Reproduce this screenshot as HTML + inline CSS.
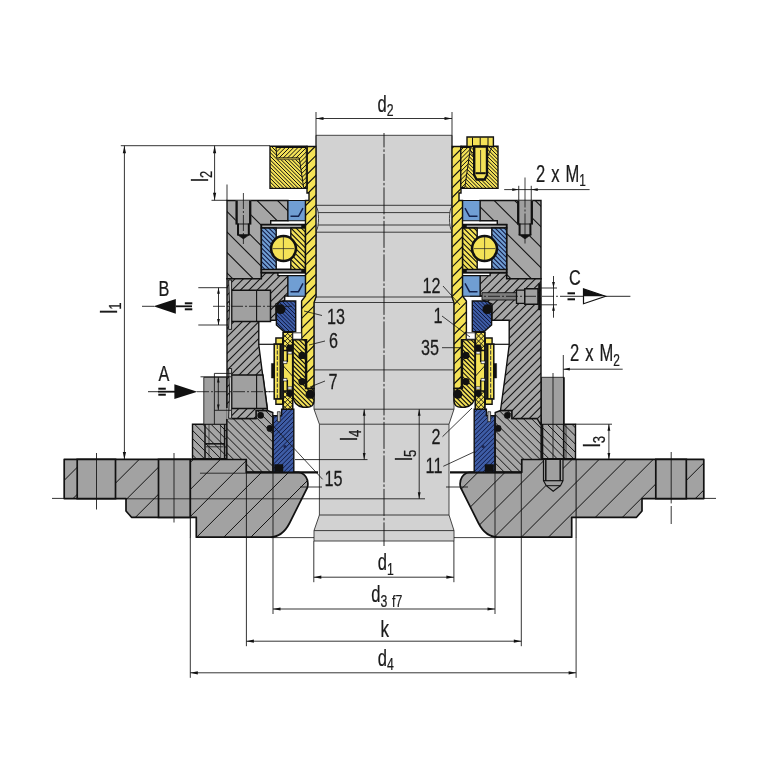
<!DOCTYPE html>
<html><head><meta charset="utf-8"><title>Seal drawing</title>
<style>
html,body{margin:0;padding:0;background:#fff;}
body{width:768px;height:768px;overflow:hidden;}
svg{display:block;}
text{font-family:"Liberation Sans",sans-serif;}
</style></head><body>
<svg width="768" height="768" viewBox="0 0 768 768">
<rect width="768" height="768" fill="#fff"/>
<defs>
<linearGradient id="shaftg" x1="0" y1="0" x2="1" y2="0"><stop offset="0" stop-color="#cdced0"/><stop offset="0.5" stop-color="#d3d4d6"/><stop offset="1" stop-color="#cdced0"/></linearGradient>
<clipPath id="c1"><path d="M64.2,459.4 L246.4,459.4 L246.4,472.3 L298.5,472.3 C304.5,472.6 309.5,479.5 307.4,487.5 L289.6,523 C285.5,531 279,537.2 270,537.2 L196.3,537.2 L196.3,517.3 L131.5,517.3 L126,511 L126,498.6 L64.2,498.6 Z "/></clipPath>
<clipPath id="c2"><path d="M703.8,459.4 L521.6,459.4 L521.6,472.3 L469.5,472.3 C463.5,472.6 458.5,479.5 460.6,487.5 L478.4,523 C482.5,531 489,537.2 498,537.2 L571.7,537.2 L571.7,517.3 L636.5,517.3 L642,511 L642,498.6 L703.8,498.6 Z "/></clipPath>
<clipPath id="c3"><polygon points="192.5,424.2 226.9,424.2 226.9,458.8 192.5,458.8"/></clipPath>
<clipPath id="c4"><polygon points="575.5,424.2 541.1,424.2 541.1,458.8 575.5,458.8"/></clipPath>
<clipPath id="c5"><polygon points="226.9,418.5 256,418.5 256,410.5 267.5,410.5 272.8,412.5 272.8,472.3 246.4,472.3 246.4,459.4 226.9,459.4"/></clipPath>
<clipPath id="c6"><polygon points="541.1,418.5 512,418.5 512,410.5 500.5,410.5 495.2,412.5 495.2,472.3 521.6,472.3 521.6,459.4 541.1,459.4"/></clipPath>
<clipPath id="c7"><polygon points="281.6,409.3 293.8,409.3 293.8,472.3 273.2,472.3 273.2,415.8 281.6,415.8"/></clipPath>
<clipPath id="c8"><polygon points="486.4,409.3 474.2,409.3 474.2,472.3 494.8,472.3 494.8,415.8 486.4,415.8"/></clipPath>
<clipPath id="c9"><polygon points="227,200.5 288,200.5 288,220.8 270.7,220.8 270.7,224.6 261.4,224.6 261.4,278.8 227,278.8"/></clipPath>
<clipPath id="c10"><polygon points="541,200.5 480,200.5 480,220.8 497.3,220.8 497.3,224.6 506.6,224.6 506.6,278.8 541,278.8"/></clipPath>
<clipPath id="c11"><polygon points="227,278.8 261.4,278.8 261.4,272.6 277.9,272.6 277.9,275.6 288,275.6 288,296 284.7,296 284.7,300.5 276,304 276,320.2 258.8,320.2 258.8,345 262,370 267.5,410.5 256,410.5 256,418.5 231,418.5 231,410.3 227,410.3"/></clipPath>
<clipPath id="c12"><polygon points="541,278.8 506.6,278.8 506.6,272.6 490.1,272.6 490.1,275.6 480,275.6 480,296 483.3,296 483.3,300.5 492,304 492,320.2 509.2,320.2 509.2,345 506,370 500.5,410.5 512,410.5 512,418.5 537,418.5 540.5,424.2 541,424.2"/></clipPath>
<clipPath id="c13"><polygon points="261.4,228 276.2,228 276.2,269.4 261.4,269.4"/></clipPath>
<clipPath id="c14"><polygon points="506.6,228 491.8,228 491.8,269.4 506.6,269.4"/></clipPath>
<clipPath id="c15"><polygon points="290.8,228 305.5,228 305.5,269.4 290.8,269.4"/></clipPath>
<clipPath id="c16"><polygon points="477.2,228 462.5,228 462.5,269.4 477.2,269.4"/></clipPath>
<clipPath id="c17"><polygon points="307,146.5 316,146.5 316,297 314,302.5 314,388.5 306.6,388.5 306.6,339.8 301.6,339.8 301.6,301 305.5,296 305.5,200.5 309,200.5 309,193 307,193"/></clipPath>
<clipPath id="c18"><polygon points="461,146.5 452,146.5 452,297 454,302.5 454,388.5 461.4,388.5 461.4,339.8 466.4,339.8 466.4,301 462.5,296 462.5,200.5 459,200.5 459,193 461,193"/></clipPath>
<clipPath id="c19"><polygon points="270,146.2 307,146.2 307,188.4 270,188.4"/></clipPath>
<clipPath id="c20"><polygon points="498,146.2 461,146.2 461,188.4 498,188.4"/></clipPath>
<clipPath id="c21"><polygon points="276,147.5 306.3,147.5 306.3,187.5 303.6,187.5 299.3,158 276.8,158"/></clipPath>
<clipPath id="c22"><polygon points="461,147.5 470.5,147.5 464.8,187.5 461,187.5"/></clipPath>
<clipPath id="c23"><polygon points="285,301 295.7,301 295.7,331.6 283.8,331.6 276.4,325 276.4,306 280,301.5"/></clipPath>
<clipPath id="c24"><polygon points="483,301 472.3,301 472.3,331.6 484.2,331.6 491.6,325 491.6,306 488,301.5"/></clipPath>
<clipPath id="c25"><path d="M293,339.8 L305.6,339.8 L305.6,388.5 L314,388.5 L314,401 C314,405 311,407.3 307,407.3 L303,407.3 C297,406.5 293,402 293,396 Z "/></clipPath>
<clipPath id="c26"><path d="M475,339.8 L462.4,339.8 L462.4,388.5 L454,388.5 L454,401 C454,405 457,407.3 461,407.3 L465,407.3 C471,406.5 475,402 475,396 Z "/></clipPath>
<clipPath id="c27"><polygon points="283.2,332.4 292.6,332.4 292.6,350.5 283.2,350.5"/></clipPath>
<clipPath id="c28"><polygon points="484.8,332.4 475.4,332.4 475.4,350.5 484.8,350.5"/></clipPath>
<clipPath id="c29"><polygon points="283.2,391 292.6,391 292.6,409.2 283.2,409.2"/></clipPath>
<clipPath id="c30"><polygon points="484.8,391 475.4,391 475.4,409.2 484.8,409.2"/></clipPath>
</defs>
<polygon points="316,135.3 452,135.3 452,297 454,302.5 454,409.2 449,424.2 449,515 454,530.6 454,541 314,541 314,530.6 319.4,515 319.4,424.2 314,409.2 314,302.5 316,297" fill="#d2d2d2" stroke="#333" stroke-width="0.9" stroke-linejoin="miter" />
<line x1="316" y1="205.3" x2="452" y2="205.3" stroke="#333" stroke-width="0.95" />
<line x1="316" y1="212.6" x2="452" y2="212.6" stroke="#333" stroke-width="0.95" />
<line x1="316" y1="225" x2="452" y2="225" stroke="#333" stroke-width="0.95" />
<line x1="316" y1="232.2" x2="452" y2="232.2" stroke="#333" stroke-width="0.95" />
<line x1="316" y1="297" x2="452" y2="297" stroke="#333" stroke-width="0.95" />
<line x1="314" y1="302.5" x2="454" y2="302.5" stroke="#333" stroke-width="0.95" />
<line x1="314" y1="369.9" x2="454" y2="369.9" stroke="#333" stroke-width="0.95" />
<line x1="314" y1="409.2" x2="454" y2="409.2" stroke="#333" stroke-width="0.95" />
<line x1="319.4" y1="424.2" x2="449" y2="424.2" stroke="#333" stroke-width="0.95" />
<line x1="319.4" y1="515" x2="449" y2="515" stroke="#333" stroke-width="0.95" />
<line x1="314" y1="530.6" x2="454" y2="530.6" stroke="#333" stroke-width="0.95" />
<path d="M316,206.5 C319.4,209 319.4,228 316,231" fill="#e2e2e4" stroke="#333" stroke-width="0.9" />
<path d="M452,206.5 C448.6,209 448.6,228 452,231" fill="#e2e2e4" stroke="#333" stroke-width="0.9" />
<path d="M64.2,459.4 L246.4,459.4 L246.4,472.3 L298.5,472.3 C304.5,472.6 309.5,479.5 307.4,487.5 L289.6,523 C285.5,531 279,537.2 270,537.2 L196.3,537.2 L196.3,517.3 L131.5,517.3 L126,511 L126,498.6 L64.2,498.6 Z " fill="#a2a2a2" stroke="none"/>
<g clip-path="url(#c1)"><path d="M63.00,481.52L705.00,-160.48M63.00,508.58L705.00,-133.42M63.00,535.63L705.00,-106.37M63.00,562.68L705.00,-79.32M63.00,589.74L705.00,-52.26M63.00,616.79L705.00,-25.21M63.00,643.85L705.00,1.85M63.00,670.90L705.00,28.90M63.00,697.95L705.00,55.95M63.00,725.01L705.00,83.01M63.00,752.06L705.00,110.06M63.00,779.12L705.00,137.12M63.00,806.17L705.00,164.17M63.00,833.22L705.00,191.22M63.00,860.28L705.00,218.28M63.00,887.33L705.00,245.33M63.00,914.39L705.00,272.39M63.00,941.44L705.00,299.44M63.00,968.49L705.00,326.49M63.00,995.55L705.00,353.55M63.00,1022.60L705.00,380.60M63.00,1049.65L705.00,407.65M63.00,1076.71L705.00,434.71M63.00,1103.76L705.00,461.76M63.00,1130.82L705.00,488.82M63.00,1157.87L705.00,515.87" fill="none" stroke="#121212" stroke-width="1"/></g>
<path d="M64.2,459.4 L246.4,459.4 L246.4,472.3 L298.5,472.3 C304.5,472.6 309.5,479.5 307.4,487.5 L289.6,523 C285.5,531 279,537.2 270,537.2 L196.3,537.2 L196.3,517.3 L131.5,517.3 L126,511 L126,498.6 L64.2,498.6 Z " fill="none" stroke="#111" stroke-width="1.7" stroke-linejoin="round"/>
<path d="M703.8,459.4 L521.6,459.4 L521.6,472.3 L469.5,472.3 C463.5,472.6 458.5,479.5 460.6,487.5 L478.4,523 C482.5,531 489,537.2 498,537.2 L571.7,537.2 L571.7,517.3 L636.5,517.3 L642,511 L642,498.6 L703.8,498.6 Z " fill="#a2a2a2" stroke="none"/>
<g clip-path="url(#c2)"><path d="M63.00,481.52L705.00,-160.48M63.00,508.58L705.00,-133.42M63.00,535.63L705.00,-106.37M63.00,562.68L705.00,-79.32M63.00,589.74L705.00,-52.26M63.00,616.79L705.00,-25.21M63.00,643.85L705.00,1.85M63.00,670.90L705.00,28.90M63.00,697.95L705.00,55.95M63.00,725.01L705.00,83.01M63.00,752.06L705.00,110.06M63.00,779.12L705.00,137.12M63.00,806.17L705.00,164.17M63.00,833.22L705.00,191.22M63.00,860.28L705.00,218.28M63.00,887.33L705.00,245.33M63.00,914.39L705.00,272.39M63.00,941.44L705.00,299.44M63.00,968.49L705.00,326.49M63.00,995.55L705.00,353.55M63.00,1022.60L705.00,380.60M63.00,1049.65L705.00,407.65M63.00,1076.71L705.00,434.71M63.00,1103.76L705.00,461.76M63.00,1130.82L705.00,488.82M63.00,1157.87L705.00,515.87" fill="none" stroke="#121212" stroke-width="1"/></g>
<path d="M703.8,459.4 L521.6,459.4 L521.6,472.3 L469.5,472.3 C463.5,472.6 458.5,479.5 460.6,487.5 L478.4,523 C482.5,531 489,537.2 498,537.2 L571.7,537.2 L571.7,517.3 L636.5,517.3 L642,511 L642,498.6 L703.8,498.6 Z " fill="none" stroke="#111" stroke-width="1.7" stroke-linejoin="round"/>
<polygon points="77.2,459.4 115.5,459.4 115.5,498.6 77.2,498.6" fill="#a2a2a2" stroke="#111" stroke-width="1.7" stroke-linejoin="miter" />
<polygon points="158.5,459.4 190.3,459.4 190.3,517.3 158.5,517.3" fill="#a2a2a2" stroke="#111" stroke-width="1.7" stroke-linejoin="miter" />
<polygon points="655.8,459.4 686.3,459.4 686.3,498.6 655.8,498.6" fill="#a2a2a2" stroke="#111" stroke-width="1.7" stroke-linejoin="miter" />
<line x1="200" y1="473.2" x2="246.4" y2="473.2" stroke="#111" stroke-width="0.8" />
<line x1="126" y1="498.8" x2="300" y2="498.8" stroke="#111" stroke-width="0.8" />
<line x1="190.3" y1="459.4" x2="190.3" y2="537.4" stroke="#111" stroke-width="1" />
<line x1="576.1" y1="459.4" x2="576.1" y2="537.4" stroke="#111" stroke-width="1" />
<polygon points="192.5,424.2 226.9,424.2 226.9,458.8 192.5,458.8" fill="#a6a6a6" stroke="none"/>
<g clip-path="url(#c3)"><path d="M191.50,388.36L227.90,424.76M191.50,396.56L227.90,432.96M191.50,404.76L227.90,441.16M191.50,412.97L227.90,449.37M191.50,421.17L227.90,457.57M191.50,429.37L227.90,465.77M191.50,437.57L227.90,473.97M191.50,445.78L227.90,482.18M191.50,453.98L227.90,490.38" fill="none" stroke="#121212" stroke-width="1"/></g>
<polygon points="192.5,424.2 226.9,424.2 226.9,458.8 192.5,458.8" fill="none" stroke="#111" stroke-width="1.4"/>
<polygon points="575.5,424.2 541.1,424.2 541.1,458.8 575.5,458.8" fill="#a6a6a6" stroke="none"/>
<g clip-path="url(#c4)"><path d="M540.10,392.46L576.50,428.86M540.10,400.66L576.50,437.06M540.10,408.86L576.50,445.26M540.10,417.06L576.50,453.46M540.10,425.27L576.50,461.67M540.10,433.47L576.50,469.87M540.10,441.67L576.50,478.07M540.10,449.87L576.50,486.27M540.10,458.08L576.50,494.48" fill="none" stroke="#121212" stroke-width="1"/></g>
<polygon points="575.5,424.2 541.1,424.2 541.1,458.8 575.5,458.8" fill="none" stroke="#111" stroke-width="1.4"/>
<polygon points="203.8,377.3 226.5,377.3 226.5,424.2 203.8,424.2" fill="#a0a0a0" stroke="#222" stroke-width="0.9" stroke-linejoin="miter" />
<polygon points="564.2,377.3 541.5,377.3 541.5,424.2 564.2,424.2" fill="#a0a0a0" stroke="#222" stroke-width="0.9" stroke-linejoin="miter" />
<polygon points="226.9,418.5 256,418.5 256,410.5 267.5,410.5 272.8,412.5 272.8,472.3 246.4,472.3 246.4,459.4 226.9,459.4" fill="#a6a6a6" stroke="none"/>
<g clip-path="url(#c5)"><path d="M225.90,362.94L273.80,410.84M225.90,371.00L273.80,418.90M225.90,379.06L273.80,426.96M225.90,387.12L273.80,435.02M225.90,395.18L273.80,443.08M225.90,403.24L273.80,451.14M225.90,411.30L273.80,459.20M225.90,419.36L273.80,467.26M225.90,427.43L273.80,475.33M225.90,435.49L273.80,483.39M225.90,443.55L273.80,491.45M225.90,451.61L273.80,499.51M225.90,459.67L273.80,507.57M225.90,467.73L273.80,515.63" fill="none" stroke="#121212" stroke-width="1"/></g>
<polygon points="226.9,418.5 256,418.5 256,410.5 267.5,410.5 272.8,412.5 272.8,472.3 246.4,472.3 246.4,459.4 226.9,459.4" fill="none" stroke="#111" stroke-width="1.4"/>
<polygon points="541.1,418.5 512,418.5 512,410.5 500.5,410.5 495.2,412.5 495.2,472.3 521.6,472.3 521.6,459.4 541.1,459.4" fill="#a6a6a6" stroke="none"/>
<g clip-path="url(#c6)"><path d="M494.20,365.22L542.10,413.12M494.20,373.28L542.10,421.18M494.20,381.35L542.10,429.25M494.20,389.41L542.10,437.31M494.20,397.47L542.10,445.37M494.20,405.53L542.10,453.43M494.20,413.59L542.10,461.49M494.20,421.65L542.10,469.55M494.20,429.71L542.10,477.61M494.20,437.77L542.10,485.67M494.20,445.83L542.10,493.73M494.20,453.89L542.10,501.79M494.20,461.96L542.10,509.86M494.20,470.02L542.10,517.92" fill="none" stroke="#121212" stroke-width="1"/></g>
<polygon points="541.1,418.5 512,418.5 512,410.5 500.5,410.5 495.2,412.5 495.2,472.3 521.6,472.3 521.6,459.4 541.1,459.4" fill="none" stroke="#111" stroke-width="1.4"/>
<line x1="246.4" y1="472.3" x2="318" y2="472.3" stroke="#111" stroke-width="2.2" />
<line x1="521.6" y1="472.3" x2="450" y2="472.3" stroke="#111" stroke-width="2.2" />
<polygon points="281.6,409.3 293.8,409.3 293.8,472.3 273.2,472.3 273.2,415.8 281.6,415.8" fill="#3e5da6" stroke="none"/>
<g clip-path="url(#c7)"><path d="M272.20,411.15L294.80,388.55M272.20,415.67L294.80,393.07M272.20,420.20L294.80,397.60M272.20,424.72L294.80,402.12M272.20,429.25L294.80,406.65M272.20,433.78L294.80,411.18M272.20,438.30L294.80,415.70M272.20,442.83L294.80,420.23M272.20,447.35L294.80,424.75M272.20,451.88L294.80,429.28M272.20,456.40L294.80,433.80M272.20,460.93L294.80,438.33M272.20,465.45L294.80,442.85M272.20,469.98L294.80,447.38M272.20,474.50L294.80,451.90M272.20,479.03L294.80,456.43M272.20,483.56L294.80,460.96M272.20,488.08L294.80,465.48M272.20,492.61L294.80,470.01" fill="none" stroke="#121a45" stroke-width="1"/></g>
<polygon points="281.6,409.3 293.8,409.3 293.8,472.3 273.2,472.3 273.2,415.8 281.6,415.8" fill="none" stroke="#111" stroke-width="1.4"/>
<polygon points="486.4,409.3 474.2,409.3 474.2,472.3 494.8,472.3 494.8,415.8 486.4,415.8" fill="#3e5da6" stroke="none"/>
<g clip-path="url(#c8)"><path d="M473.20,409.27L495.80,386.67M473.20,413.79L495.80,391.19M473.20,418.32L495.80,395.72M473.20,422.85L495.80,400.25M473.20,427.37L495.80,404.77M473.20,431.90L495.80,409.30M473.20,436.42L495.80,413.82M473.20,440.95L495.80,418.35M473.20,445.47L495.80,422.87M473.20,450.00L495.80,427.40M473.20,454.52L495.80,431.92M473.20,459.05L495.80,436.45M473.20,463.58L495.80,440.98M473.20,468.10L495.80,445.50M473.20,472.63L495.80,450.03M473.20,477.15L495.80,454.55M473.20,481.68L495.80,459.08M473.20,486.20L495.80,463.60M473.20,490.73L495.80,468.13M473.20,495.25L495.80,472.65" fill="none" stroke="#121a45" stroke-width="1"/></g>
<polygon points="486.4,409.3 474.2,409.3 474.2,472.3 494.8,472.3 494.8,415.8 486.4,415.8" fill="none" stroke="#111" stroke-width="1.4"/>
<polygon points="274.5,464.5 283,464.5 283,471.8 274.5,471.8" fill="#111" stroke="#111" stroke-width="0.5" stroke-linejoin="miter" />
<polygon points="493.5,464.5 485,464.5 485,471.8 493.5,471.8" fill="#111" stroke="#111" stroke-width="0.5" stroke-linejoin="miter" />
<polygon points="277.4,411.7 280.2,411.7 280.2,421.7 277.4,421.7" fill="#b8b8b8" stroke="#111" stroke-width="0.7" stroke-linejoin="miter" />
<polygon points="490.6,411.7 487.8,411.7 487.8,421.7 490.6,421.7" fill="#b8b8b8" stroke="#111" stroke-width="0.7" stroke-linejoin="miter" />
<circle cx="270" cy="428.4" r="3.4" fill="#111" stroke="none" stroke-width="0"/>
<circle cx="498" cy="428.4" r="3.4" fill="#111" stroke="none" stroke-width="0"/>
<circle cx="285" cy="446.5" r="1.6" fill="#1b2550" stroke="none" stroke-width="0"/>
<circle cx="483" cy="446.5" r="1.6" fill="#1b2550" stroke="none" stroke-width="0"/>
<circle cx="260.6" cy="415.4" r="3.3" fill="#111" stroke="none" stroke-width="0"/>
<circle cx="507.4" cy="415.4" r="3.3" fill="#111" stroke="none" stroke-width="0"/>
<polygon points="227,200.5 288,200.5 288,220.8 270.7,220.8 270.7,224.6 261.4,224.6 261.4,278.8 227,278.8" fill="#a6a6a6" stroke="none"/>
<g clip-path="url(#c9)"><path d="M226.00,148.99L289.00,211.99M226.00,169.50L289.00,232.50M226.00,190.01L289.00,253.01M226.00,210.51L289.00,273.51M226.00,231.02L289.00,294.02M226.00,251.52L289.00,314.52M226.00,272.03L289.00,335.03" fill="none" stroke="#121212" stroke-width="1.1"/></g>
<polygon points="227,200.5 288,200.5 288,220.8 270.7,220.8 270.7,224.6 261.4,224.6 261.4,278.8 227,278.8" fill="none" stroke="#111" stroke-width="1.4"/>
<polygon points="541,200.5 480,200.5 480,220.8 497.3,220.8 497.3,224.6 506.6,224.6 506.6,278.8 541,278.8" fill="#a6a6a6" stroke="none"/>
<g clip-path="url(#c10)"><path d="M479.00,144.29L542.00,207.29M479.00,164.80L542.00,227.80M479.00,185.31L542.00,248.31M479.00,205.81L542.00,268.81M479.00,226.32L542.00,289.32M479.00,246.82L542.00,309.82M479.00,267.33L542.00,330.33" fill="none" stroke="#121212" stroke-width="1.1"/></g>
<polygon points="541,200.5 480,200.5 480,220.8 497.3,220.8 497.3,224.6 506.6,224.6 506.6,278.8 541,278.8" fill="none" stroke="#111" stroke-width="1.4"/>
<polygon points="227,278.8 261.4,278.8 261.4,272.6 277.9,272.6 277.9,275.6 288,275.6 288,296 284.7,296 284.7,300.5 276,304 276,320.2 258.8,320.2 258.8,345 262,370 267.5,410.5 256,410.5 256,418.5 231,418.5 231,410.3 227,410.3" fill="#a6a6a6" stroke="none"/>
<g clip-path="url(#c11)"><path d="M226.00,279.51L289.00,216.51M226.00,287.86L289.00,224.86M226.00,296.20L289.00,233.20M226.00,304.54L289.00,241.54M226.00,312.89L289.00,249.89M226.00,321.23L289.00,258.23M226.00,329.58L289.00,266.58M226.00,337.92L289.00,274.92M226.00,346.26L289.00,283.26M226.00,354.61L289.00,291.61M226.00,362.95L289.00,299.95M226.00,371.29L289.00,308.29M226.00,379.64L289.00,316.64M226.00,387.98L289.00,324.98M226.00,396.33L289.00,333.33M226.00,404.67L289.00,341.67M226.00,413.01L289.00,350.01M226.00,421.36L289.00,358.36M226.00,429.70L289.00,366.70M226.00,438.05L289.00,375.05M226.00,446.39L289.00,383.39M226.00,454.73L289.00,391.73M226.00,463.08L289.00,400.08M226.00,471.42L289.00,408.42M226.00,479.76L289.00,416.76" fill="none" stroke="#121212" stroke-width="1.05"/></g>
<polygon points="227,278.8 261.4,278.8 261.4,272.6 277.9,272.6 277.9,275.6 288,275.6 288,296 284.7,296 284.7,300.5 276,304 276,320.2 258.8,320.2 258.8,345 262,370 267.5,410.5 256,410.5 256,418.5 231,418.5 231,410.3 227,410.3" fill="none" stroke="#111" stroke-width="1.4"/>
<polygon points="541,278.8 506.6,278.8 506.6,272.6 490.1,272.6 490.1,275.6 480,275.6 480,296 483.3,296 483.3,300.5 492,304 492,320.2 509.2,320.2 509.2,345 506,370 500.5,410.5 512,410.5 512,418.5 537,418.5 540.5,424.2 541,424.2" fill="#a6a6a6" stroke="none"/>
<g clip-path="url(#c12)"><path d="M479.00,276.83L542.00,213.83M479.00,285.17L542.00,222.17M479.00,293.52L542.00,230.52M479.00,301.86L542.00,238.86M479.00,310.20L542.00,247.20M479.00,318.55L542.00,255.55M479.00,326.89L542.00,263.89M479.00,335.24L542.00,272.24M479.00,343.58L542.00,280.58M479.00,351.92L542.00,288.92M479.00,360.27L542.00,297.27M479.00,368.61L542.00,305.61M479.00,376.95L542.00,313.95M479.00,385.30L542.00,322.30M479.00,393.64L542.00,330.64M479.00,401.99L542.00,338.99M479.00,410.33L542.00,347.33M479.00,418.67L542.00,355.67M479.00,427.02L542.00,364.02M479.00,435.36L542.00,372.36M479.00,443.71L542.00,380.71M479.00,452.05L542.00,389.05M479.00,460.39L542.00,397.39M479.00,468.74L542.00,405.74M479.00,477.08L542.00,414.08M479.00,485.42L542.00,422.42" fill="none" stroke="#121212" stroke-width="1.05"/></g>
<polygon points="541,278.8 506.6,278.8 506.6,272.6 490.1,272.6 490.1,275.6 480,275.6 480,296 483.3,296 483.3,300.5 492,304 492,320.2 509.2,320.2 509.2,345 506,370 500.5,410.5 512,410.5 512,418.5 537,418.5 540.5,424.2 541,424.2" fill="none" stroke="#111" stroke-width="1.4"/>
<line x1="258.8" y1="344.3" x2="274.6" y2="344.3" stroke="#111" stroke-width="1.2" />
<line x1="509.2" y1="344.3" x2="493.4" y2="344.3" stroke="#111" stroke-width="1.2" />
<line x1="265.5" y1="391.7" x2="274.2" y2="391.7" stroke="#111" stroke-width="0.8" />
<polygon points="231.6,290.3 270.5,290.3 270.5,321.6 231.6,321.6" fill="#a0a0a0" stroke="#111" stroke-width="1.5" stroke-linejoin="miter" />
<line x1="256.6" y1="290.3" x2="256.6" y2="321.6" stroke="#111" stroke-width="1.1" />
<path d="M228.6,280 Q230.6,306 228.6,329.4 L231.6,329.4 L231.6,280 Z" fill="#c4c4c4" stroke="#111" stroke-width="0.9" />
<polygon points="226.3,408 231.8,408 231.8,419 226.3,419" fill="#a0a0a0" stroke="none" stroke-width="0" stroke-linejoin="miter" />
<polygon points="231.6,375 262.9,375 267.3,408.6 231.6,408.6" fill="#a0a0a0" stroke="#111" stroke-width="1.5" stroke-linejoin="miter" />
<line x1="256.6" y1="375" x2="256.6" y2="408.6" stroke="#111" stroke-width="1.1" />
<path d="M228.6,368.5 Q230.6,392 228.6,418.3 L231.6,418.3 L231.6,368.5 Z" fill="#c4c4c4" stroke="#111" stroke-width="0.9" />
<polygon points="482,292.7 518,292.7 518,300 482,300" fill="#7d7d7d" stroke="#111" stroke-width="0.9" stroke-linejoin="miter" />
<polygon points="516.5,290.2 524.8,290.2 524.8,303.3 516.5,303.3" fill="#a0a0a0" stroke="#111" stroke-width="1.3" stroke-linejoin="miter" />
<polygon points="524.8,288.7 538,288.7 538,304.3 524.8,304.3" fill="#a0a0a0" stroke="#111" stroke-width="1.4" stroke-linejoin="miter" />
<polygon points="538.3,283.5 540.6,283.5 540.6,310 538.3,310" fill="#111" stroke="#111" stroke-width="0.4" stroke-linejoin="miter" />
<polygon points="235.6,200.5 251.2,200.5 251.2,224 235.6,224" fill="#a0a0a0" stroke="none" stroke-width="0" stroke-linejoin="miter" />
<line x1="236.6" y1="200.5" x2="236.6" y2="224.6" stroke="#111" stroke-width="2.3" />
<line x1="250.2" y1="200.5" x2="250.2" y2="224.6" stroke="#111" stroke-width="2.3" />
<polygon points="237.2,224 249.6,224 249.6,235 237.2,235" fill="#a0a0a0" stroke="none" stroke-width="0" stroke-linejoin="miter" />
<line x1="238" y1="223.5" x2="238" y2="235.5" stroke="#111" stroke-width="2" />
<line x1="248.8" y1="223.5" x2="248.8" y2="235.5" stroke="#111" stroke-width="2" />
<line x1="237.2" y1="224" x2="249.6" y2="224" stroke="#111" stroke-width="0.9" />
<polygon points="237.2,234.6 249.6,234.6 243.4,238.9" fill="#111" stroke="#111" stroke-width="0.6" stroke-linejoin="miter" />
<polygon points="532.8,200.5 517.2,200.5 517.2,224 532.8,224" fill="#a0a0a0" stroke="none" stroke-width="0" stroke-linejoin="miter" />
<line x1="531.8" y1="200.5" x2="531.8" y2="224.6" stroke="#111" stroke-width="2.3" />
<line x1="518.2" y1="200.5" x2="518.2" y2="224.6" stroke="#111" stroke-width="2.3" />
<polygon points="531.2,224 518.8,224 518.8,235 531.2,235" fill="#a0a0a0" stroke="none" stroke-width="0" stroke-linejoin="miter" />
<line x1="530.4" y1="223.5" x2="530.4" y2="235.5" stroke="#111" stroke-width="2" />
<line x1="519.6" y1="223.5" x2="519.6" y2="235.5" stroke="#111" stroke-width="2" />
<line x1="531.2" y1="224" x2="518.8" y2="224" stroke="#111" stroke-width="0.9" />
<polygon points="531.2,234.6 518.8,234.6 525,238.9" fill="#111" stroke="#111" stroke-width="0.6" stroke-linejoin="miter" />
<polygon points="288,200.5 305.5,200.5 305.5,220.8 288,220.8" fill="#709ed3" stroke="#111" stroke-width="1.1" stroke-linejoin="miter" />
<polygon points="480,200.5 462.5,200.5 462.5,220.8 480,220.8" fill="#709ed3" stroke="#111" stroke-width="1.1" stroke-linejoin="miter" />
<path d="M290.5,216.334 L298.5,216.334 L303,208.214" fill="none" stroke="#14224d" stroke-width="1.5" />
<path d="M477.5,216.334 L469.5,216.334 L465,208.214" fill="none" stroke="#14224d" stroke-width="1.5" />
<polygon points="288,275.6 305.5,275.6 305.5,296.2 288,296.2" fill="#709ed3" stroke="#111" stroke-width="1.1" stroke-linejoin="miter" />
<polygon points="480,275.6 462.5,275.6 462.5,296.2 480,296.2" fill="#709ed3" stroke="#111" stroke-width="1.1" stroke-linejoin="miter" />
<path d="M290.5,291.668 L298.5,291.668 L303,283.428" fill="none" stroke="#14224d" stroke-width="1.5" />
<path d="M477.5,291.668 L469.5,291.668 L465,283.428" fill="none" stroke="#14224d" stroke-width="1.5" />
<polygon points="261.4,224.6 305.5,224.6 305.5,272.6 261.4,272.6" fill="#fff" stroke="#111" stroke-width="1.2" stroke-linejoin="miter" />
<polygon points="506.6,224.6 462.5,224.6 462.5,272.6 506.6,272.6" fill="#fff" stroke="#111" stroke-width="1.2" stroke-linejoin="miter" />
<polygon points="261.4,224.6 305.5,224.6 305.5,228 261.4,228" fill="#a8a8a8" stroke="#111" stroke-width="1.6" stroke-linejoin="miter" />
<polygon points="506.6,224.6 462.5,224.6 462.5,228 506.6,228" fill="#a8a8a8" stroke="#111" stroke-width="1.6" stroke-linejoin="miter" />
<polygon points="261.4,269.4 305.5,269.4 305.5,272.6 261.4,272.6" fill="#a8a8a8" stroke="#111" stroke-width="1.6" stroke-linejoin="miter" />
<polygon points="506.6,269.4 462.5,269.4 462.5,272.6 506.6,272.6" fill="#a8a8a8" stroke="#111" stroke-width="1.6" stroke-linejoin="miter" />
<polygon points="301.5,224.8 306,224.8 306,228.6 301.5,228.6" fill="#111" stroke="#111" stroke-width="0.5" stroke-linejoin="miter" />
<polygon points="466.5,224.8 462,224.8 462,228.6 466.5,228.6" fill="#111" stroke="#111" stroke-width="0.5" stroke-linejoin="miter" />
<polygon points="301.5,269 306,269 306,272.6 301.5,272.6" fill="#111" stroke="#111" stroke-width="0.5" stroke-linejoin="miter" />
<polygon points="466.5,269 462,269 462,272.6 466.5,272.6" fill="#111" stroke="#111" stroke-width="0.5" stroke-linejoin="miter" />
<polygon points="261.4,228 276.2,228 276.2,269.4 261.4,269.4" fill="#709ed3" stroke="none"/>
<g clip-path="url(#c13)"><path d="M260.40,210.62L277.20,227.42M260.40,215.15L277.20,231.95M260.40,219.67L277.20,236.47M260.40,224.20L277.20,241.00M260.40,228.72L277.20,245.52M260.40,233.25L277.20,250.05M260.40,237.77L277.20,254.57M260.40,242.30L277.20,259.10M260.40,246.82L277.20,263.62M260.40,251.35L277.20,268.15M260.40,255.87L277.20,272.67M260.40,260.40L277.20,277.20M260.40,264.93L277.20,281.73M260.40,269.45L277.20,286.25" fill="none" stroke="#121a45" stroke-width="1.05"/></g>
<polygon points="261.4,228 276.2,228 276.2,269.4 261.4,269.4" fill="none" stroke="#111" stroke-width="1.4"/>
<polygon points="506.6,228 491.8,228 491.8,269.4 506.6,269.4" fill="#709ed3" stroke="none"/>
<g clip-path="url(#c14)"><path d="M490.80,210.22L507.60,227.02M490.80,214.75L507.60,231.55M490.80,219.27L507.60,236.07M490.80,223.80L507.60,240.60M490.80,228.32L507.60,245.12M490.80,232.85L507.60,249.65M490.80,237.37L507.60,254.17M490.80,241.90L507.60,258.70M490.80,246.42L507.60,263.22M490.80,250.95L507.60,267.75M490.80,255.47L507.60,272.27M490.80,260.00L507.60,276.80M490.80,264.53L507.60,281.33M490.80,269.05L507.60,285.85" fill="none" stroke="#121a45" stroke-width="1.05"/></g>
<polygon points="506.6,228 491.8,228 491.8,269.4 506.6,269.4" fill="none" stroke="#111" stroke-width="1.4"/>
<polygon points="290.8,228 305.5,228 305.5,269.4 290.8,269.4" fill="#f4e257" stroke="none"/>
<g clip-path="url(#c15)"><path d="M289.80,211.31L306.50,228.01M289.80,216.54L306.50,233.24M289.80,221.78L306.50,238.48M289.80,227.01L306.50,243.71M289.80,232.24L306.50,248.94M289.80,237.47L306.50,254.17M289.80,242.71L306.50,259.41M289.80,247.94L306.50,264.64M289.80,253.17L306.50,269.87M289.80,258.40L306.50,275.10M289.80,263.64L306.50,280.34M289.80,268.87L306.50,285.57" fill="none" stroke="#121212" stroke-width="1.1"/></g>
<polygon points="290.8,228 305.5,228 305.5,269.4 290.8,269.4" fill="none" stroke="#111" stroke-width="1.4"/>
<polygon points="477.2,228 462.5,228 462.5,269.4 477.2,269.4" fill="#f4e257" stroke="none"/>
<g clip-path="url(#c16)"><path d="M461.50,210.34L478.20,227.04M461.50,215.57L478.20,232.27M461.50,220.80L478.20,237.50M461.50,226.03L478.20,242.73M461.50,231.27L478.20,247.97M461.50,236.50L478.20,253.20M461.50,241.73L478.20,258.43M461.50,246.96L478.20,263.66M461.50,252.20L478.20,268.90M461.50,257.43L478.20,274.13M461.50,262.66L478.20,279.36M461.50,267.89L478.20,284.59" fill="none" stroke="#121212" stroke-width="1.1"/></g>
<polygon points="477.2,228 462.5,228 462.5,269.4 477.2,269.4" fill="none" stroke="#111" stroke-width="1.4"/>
<circle cx="283.5" cy="248.6" r="12.5" fill="#f4e257" stroke="#111" stroke-width="2.5"/>
<circle cx="484.5" cy="248.6" r="12.5" fill="#f4e257" stroke="#111" stroke-width="2.5"/>
<line x1="272.5" y1="248.6" x2="294.3" y2="248.6" stroke="#222" stroke-width="0.7" />
<line x1="283.4" y1="237" x2="283.4" y2="260" stroke="#222" stroke-width="0.7" />
<line x1="495.5" y1="248.6" x2="473.7" y2="248.6" stroke="#222" stroke-width="0.7" />
<line x1="484.6" y1="237" x2="484.6" y2="260" stroke="#222" stroke-width="0.7" />
<polygon points="307,146.5 316,146.5 316,297 314,302.5 314,388.5 306.6,388.5 306.6,339.8 301.6,339.8 301.6,301 305.5,296 305.5,200.5 309,200.5 309,193 307,193" fill="#f4e257" stroke="none"/>
<g clip-path="url(#c17)"><path d="M300.60,151.11L317.00,134.71M300.60,161.00L317.00,144.60M300.60,170.90L317.00,154.50M300.60,180.80L317.00,164.40M300.60,190.70L317.00,174.30M300.60,200.60L317.00,184.20M300.60,210.50L317.00,194.10M300.60,220.40L317.00,204.00M300.60,230.30L317.00,213.90M300.60,240.20L317.00,223.80M300.60,250.10L317.00,233.70M300.60,260.00L317.00,243.60M300.60,269.90L317.00,253.50M300.60,279.80L317.00,263.40M300.60,289.70L317.00,273.30M300.60,299.60L317.00,283.20M300.60,309.50L317.00,293.10M300.60,319.40L317.00,303.00M300.60,329.30L317.00,312.90M300.60,339.20L317.00,322.80M300.60,349.09L317.00,332.69M300.60,358.99L317.00,342.59M300.60,368.89L317.00,352.49M300.60,378.79L317.00,362.39M300.60,388.69L317.00,372.29M300.60,398.59L317.00,382.19" fill="none" stroke="#121212" stroke-width="1.2"/></g>
<polygon points="307,146.5 316,146.5 316,297 314,302.5 314,388.5 306.6,388.5 306.6,339.8 301.6,339.8 301.6,301 305.5,296 305.5,200.5 309,200.5 309,193 307,193" fill="none" stroke="#111" stroke-width="1.4"/>
<polygon points="461,146.5 452,146.5 452,297 454,302.5 454,388.5 461.4,388.5 461.4,339.8 466.4,339.8 466.4,301 462.5,296 462.5,200.5 459,200.5 459,193 461,193" fill="#f4e257" stroke="none"/>
<g clip-path="url(#c18)"><path d="M451.00,149.20L467.40,132.80M451.00,159.10L467.40,142.70M451.00,169.00L467.40,152.60M451.00,178.90L467.40,162.50M451.00,188.80L467.40,172.40M451.00,198.69L467.40,182.29M451.00,208.59L467.40,192.19M451.00,218.49L467.40,202.09M451.00,228.39L467.40,211.99M451.00,238.29L467.40,221.89M451.00,248.19L467.40,231.79M451.00,258.09L467.40,241.69M451.00,267.99L467.40,251.59M451.00,277.89L467.40,261.49M451.00,287.79L467.40,271.39M451.00,297.69L467.40,281.29M451.00,307.59L467.40,291.19M451.00,317.49L467.40,301.09M451.00,327.39L467.40,310.99M451.00,337.29L467.40,320.89M451.00,347.19L467.40,330.79M451.00,357.09L467.40,340.69M451.00,366.99L467.40,350.59M451.00,376.89L467.40,360.49M451.00,386.79L467.40,370.39M451.00,396.68L467.40,380.28" fill="none" stroke="#121212" stroke-width="1.2"/></g>
<polygon points="461,146.5 452,146.5 452,297 454,302.5 454,388.5 461.4,388.5 461.4,339.8 466.4,339.8 466.4,301 462.5,296 462.5,200.5 459,200.5 459,193 461,193" fill="none" stroke="#111" stroke-width="1.4"/>
<polygon points="270,146.2 307,146.2 307,188.4 270,188.4" fill="#f4e257" stroke="none"/>
<g clip-path="url(#c19)"><path d="M269.00,107.21L308.00,146.21M269.00,110.89L308.00,149.89M269.00,114.57L308.00,153.57M269.00,118.24L308.00,157.24M269.00,121.92L308.00,160.92M269.00,125.60L308.00,164.60M269.00,129.28L308.00,168.28M269.00,132.95L308.00,171.95M269.00,136.63L308.00,175.63M269.00,140.31L308.00,179.31M269.00,143.98L308.00,182.98M269.00,147.66L308.00,186.66M269.00,151.34L308.00,190.34M269.00,155.01L308.00,194.01M269.00,158.69L308.00,197.69M269.00,162.37L308.00,201.37M269.00,166.05L308.00,205.05M269.00,169.72L308.00,208.72M269.00,173.40L308.00,212.40M269.00,177.08L308.00,216.08M269.00,180.75L308.00,219.75M269.00,184.43L308.00,223.43M269.00,188.11L308.00,227.11" fill="none" stroke="#121212" stroke-width="1"/></g>
<polygon points="270,146.2 307,146.2 307,188.4 270,188.4" fill="none" stroke="#111" stroke-width="1.4"/>
<polygon points="498,146.2 461,146.2 461,188.4 498,188.4" fill="#f4e257" stroke="none"/>
<g clip-path="url(#c20)"><path d="M460.00,107.01L499.00,146.01M460.00,110.69L499.00,149.69M460.00,114.37L499.00,153.37M460.00,118.04L499.00,157.04M460.00,121.72L499.00,160.72M460.00,125.40L499.00,164.40M460.00,129.07L499.00,168.07M460.00,132.75L499.00,171.75M460.00,136.43L499.00,175.43M460.00,140.10L499.00,179.10M460.00,143.78L499.00,182.78M460.00,147.46L499.00,186.46M460.00,151.14L499.00,190.14M460.00,154.81L499.00,193.81M460.00,158.49L499.00,197.49M460.00,162.17L499.00,201.17M460.00,165.84L499.00,204.84M460.00,169.52L499.00,208.52M460.00,173.20L499.00,212.20M460.00,176.87L499.00,215.87M460.00,180.55L499.00,219.55M460.00,184.23L499.00,223.23M460.00,187.91L499.00,226.91" fill="none" stroke="#121212" stroke-width="1"/></g>
<polygon points="498,146.2 461,146.2 461,188.4 498,188.4" fill="none" stroke="#111" stroke-width="1.4"/>
<polygon points="276,147.5 306.3,147.5 306.3,187.5 303.6,187.5 299.3,158 276.8,158" fill="#f4e257" stroke="none"/>
<g clip-path="url(#c21)"><path d="M275.00,149.26L307.30,116.96M275.00,153.51L307.30,121.21M275.00,157.75L307.30,125.45M275.00,161.99L307.30,129.69M275.00,166.23L307.30,133.93M275.00,170.48L307.30,138.18M275.00,174.72L307.30,142.42M275.00,178.96L307.30,146.66M275.00,183.21L307.30,150.91M275.00,187.45L307.30,155.15M275.00,191.69L307.30,159.39M275.00,195.93L307.30,163.63M275.00,200.18L307.30,167.88M275.00,204.42L307.30,172.12M275.00,208.66L307.30,176.36M275.00,212.90L307.30,180.60M275.00,217.15L307.30,184.85" fill="none" stroke="#121212" stroke-width="1"/></g>
<polygon points="276,147.5 306.3,147.5 306.3,187.5 303.6,187.5 299.3,158 276.8,158" fill="none" stroke="#111" stroke-width="1"/>
<polygon points="278,158 299,158 299,159.6 278,159.6" fill="#c9b84a" stroke="#111" stroke-width="0.5" stroke-linejoin="miter" />
<polygon points="461,147.5 470.5,147.5 464.8,187.5 461,187.5" fill="#f4e257" stroke="none"/>
<g clip-path="url(#c22)"><path d="M460.00,146.70L471.50,135.20M460.00,150.94L471.50,139.44M460.00,155.18L471.50,143.68M460.00,159.43L471.50,147.93M460.00,163.67L471.50,152.17M460.00,167.91L471.50,156.41M460.00,172.15L471.50,160.65M460.00,176.40L471.50,164.90M460.00,180.64L471.50,169.14M460.00,184.88L471.50,173.38M460.00,189.12L471.50,177.62M460.00,193.37L471.50,181.87M460.00,197.61L471.50,186.11" fill="none" stroke="#121212" stroke-width="1"/></g>
<polygon points="461,147.5 470.5,147.5 464.8,187.5 461,187.5" fill="none" stroke="#111" stroke-width="1"/>
<polygon points="467,137 493.4,137 493.4,146.5 467,146.5" fill="#f4e257" stroke="#111" stroke-width="1.4" stroke-linejoin="miter" />
<line x1="472.5" y1="137.5" x2="472.5" y2="146.5" stroke="#111" stroke-width="1" />
<line x1="480.2" y1="137.5" x2="480.2" y2="146.5" stroke="#111" stroke-width="1" />
<line x1="488" y1="137.5" x2="488" y2="146.5" stroke="#111" stroke-width="1" />
<polygon points="474.2,146.5 487,146.5 487,175 484.6,179.5 476.6,179.5 474.2,175" fill="#f4e257" stroke="#111" stroke-width="2.4" stroke-linejoin="miter" />
<line x1="480.6" y1="150" x2="480.6" y2="172" stroke="#222" stroke-width="0.8" />
<line x1="475.5" y1="173.2" x2="485.7" y2="173.2" stroke="#111" stroke-width="2" />
<line x1="469" y1="147" x2="473" y2="156" stroke="#111" stroke-width="0.8" />
<line x1="492" y1="147" x2="488" y2="156" stroke="#111" stroke-width="0.8" />
<polygon points="285,301 295.7,301 295.7,331.6 283.8,331.6 276.4,325 276.4,306 280,301.5" fill="#3e5da6" stroke="none"/>
<g clip-path="url(#c23)"><path d="M275.40,279.22L296.70,300.52M275.40,283.04L296.70,304.34M275.40,286.86L296.70,308.16M275.40,290.67L296.70,311.97M275.40,294.49L296.70,315.79M275.40,298.31L296.70,319.61M275.40,302.13L296.70,323.43M275.40,305.95L296.70,327.25M275.40,309.77L296.70,331.07M275.40,313.58L296.70,334.88M275.40,317.40L296.70,338.70M275.40,321.22L296.70,342.52M275.40,325.04L296.70,346.34M275.40,328.86L296.70,350.16" fill="none" stroke="#0e1538" stroke-width="1"/></g>
<polygon points="285,301 295.7,301 295.7,331.6 283.8,331.6 276.4,325 276.4,306 280,301.5" fill="none" stroke="#111" stroke-width="1.4"/>
<polygon points="483,301 472.3,301 472.3,331.6 484.2,331.6 491.6,325 491.6,306 488,301.5" fill="#3e5da6" stroke="none"/>
<g clip-path="url(#c24)"><path d="M471.30,280.38L492.60,301.68M471.30,284.20L492.60,305.50M471.30,288.02L492.60,309.32M471.30,291.84L492.60,313.14M471.30,295.65L492.60,316.95M471.30,299.47L492.60,320.77M471.30,303.29L492.60,324.59M471.30,307.11L492.60,328.41M471.30,310.93L492.60,332.23M471.30,314.75L492.60,336.05M471.30,318.56L492.60,339.86M471.30,322.38L492.60,343.68M471.30,326.20L492.60,347.50M471.30,330.02L492.60,351.32" fill="none" stroke="#0e1538" stroke-width="1"/></g>
<polygon points="483,301 472.3,301 472.3,331.6 484.2,331.6 491.6,325 491.6,306 488,301.5" fill="none" stroke="#111" stroke-width="1.4"/>
<circle cx="280.6" cy="309.2" r="4.9" fill="#111" stroke="none" stroke-width="0"/>
<circle cx="487.4" cy="309.2" r="4.9" fill="#111" stroke="none" stroke-width="0"/>
<path d="M293,339.8 L305.6,339.8 L305.6,388.5 L314,388.5 L314,401 C314,405 311,407.3 307,407.3 L303,407.3 C297,406.5 293,402 293,396 Z " fill="#f4e257" stroke="none"/>
<g clip-path="url(#c25)"><path d="M292.00,319.15L315.00,342.15M292.00,323.68L315.00,346.68M292.00,328.20L315.00,351.20M292.00,332.73L315.00,355.73M292.00,337.25L315.00,360.25M292.00,341.78L315.00,364.78M292.00,346.31L315.00,369.31M292.00,350.83L315.00,373.83M292.00,355.36L315.00,378.36M292.00,359.88L315.00,382.88M292.00,364.41L315.00,387.41M292.00,368.93L315.00,391.93M292.00,373.46L315.00,396.46M292.00,377.98L315.00,400.98M292.00,382.51L315.00,405.51M292.00,387.04L315.00,410.04M292.00,391.56L315.00,414.56M292.00,396.09L315.00,419.09M292.00,400.61L315.00,423.61M292.00,405.14L315.00,428.14" fill="none" stroke="#121212" stroke-width="1.15"/></g>
<path d="M293,339.8 L305.6,339.8 L305.6,388.5 L314,388.5 L314,401 C314,405 311,407.3 307,407.3 L303,407.3 C297,406.5 293,402 293,396 Z " fill="none" stroke="#111" stroke-width="1.5" />
<path d="M475,339.8 L462.4,339.8 L462.4,388.5 L454,388.5 L454,401 C454,405 457,407.3 461,407.3 L465,407.3 C471,406.5 475,402 475,396 Z " fill="#f4e257" stroke="none"/>
<g clip-path="url(#c26)"><path d="M453.00,317.24L476.00,340.24M453.00,321.76L476.00,344.76M453.00,326.29L476.00,349.29M453.00,330.81L476.00,353.81M453.00,335.34L476.00,358.34M453.00,339.86L476.00,362.86M453.00,344.39L476.00,367.39M453.00,348.91L476.00,371.91M453.00,353.44L476.00,376.44M453.00,357.96L476.00,380.96M453.00,362.49L476.00,385.49M453.00,367.02L476.00,390.02M453.00,371.54L476.00,394.54M453.00,376.07L476.00,399.07M453.00,380.59L476.00,403.59M453.00,385.12L476.00,408.12M453.00,389.64L476.00,412.64M453.00,394.17L476.00,417.17M453.00,398.69L476.00,421.69M453.00,403.22L476.00,426.22M453.00,407.75L476.00,430.75" fill="none" stroke="#121212" stroke-width="1.15"/></g>
<path d="M475,339.8 L462.4,339.8 L462.4,388.5 L454,388.5 L454,401 C454,405 457,407.3 461,407.3 L465,407.3 C471,406.5 475,402 475,396 Z " fill="none" stroke="#111" stroke-width="1.5" />
<circle cx="302.1" cy="355.4" r="3.7" fill="#111" stroke="none" stroke-width="0"/>
<circle cx="465.9" cy="355.4" r="3.7" fill="#111" stroke="none" stroke-width="0"/>
<circle cx="302.1" cy="381.6" r="3.7" fill="#111" stroke="none" stroke-width="0"/>
<circle cx="465.9" cy="381.6" r="3.7" fill="#111" stroke="none" stroke-width="0"/>
<circle cx="310.2" cy="394.2" r="4.6" fill="#111" stroke="none" stroke-width="0"/>
<circle cx="457.8" cy="394.2" r="4.6" fill="#111" stroke="none" stroke-width="0"/>
<polygon points="283.2,332.4 292.6,332.4 292.6,409.2 283.2,409.2" fill="#f4e257" stroke="#111" stroke-width="1.4" stroke-linejoin="miter" />
<polygon points="484.8,332.4 475.4,332.4 475.4,409.2 484.8,409.2" fill="#f4e257" stroke="#111" stroke-width="1.4" stroke-linejoin="miter" />
<polygon points="283.2,332.4 292.6,332.4 292.6,350.5 283.2,350.5" fill="#f4e257" stroke="none"/>
<g clip-path="url(#c27)"><path d="M282.20,322.93L293.60,334.33M282.20,328.02L293.60,339.42M282.20,333.11L293.60,344.51M282.20,338.20L293.60,349.60M282.20,343.29L293.60,354.69M282.20,348.39L293.60,359.79" fill="none" stroke="#121212" stroke-width="0.9"/><path d="M282.20,333.83L293.60,322.43M282.20,338.92L293.60,327.52M282.20,344.01L293.60,332.61M282.20,349.10L293.60,337.70M282.20,354.20L293.60,342.80M282.20,359.29L293.60,347.89" fill="none" stroke="#121212" stroke-width="0.9"/></g>
<polygon points="283.2,332.4 292.6,332.4 292.6,350.5 283.2,350.5" fill="none" stroke="#111" stroke-width="1.4"/>
<polygon points="484.8,332.4 475.4,332.4 475.4,350.5 484.8,350.5" fill="#f4e257" stroke="none"/>
<g clip-path="url(#c28)"><path d="M474.40,321.66L485.80,333.06M474.40,326.76L485.80,338.16M474.40,331.85L485.80,343.25M474.40,336.94L485.80,348.34M474.40,342.03L485.80,353.43M474.40,347.12L485.80,358.52" fill="none" stroke="#121212" stroke-width="0.9"/><path d="M474.40,335.10L485.80,323.70M474.40,340.19L485.80,328.79M474.40,345.28L485.80,333.88M474.40,350.37L485.80,338.97M474.40,355.46L485.80,344.06M474.40,360.55L485.80,349.15" fill="none" stroke="#121212" stroke-width="0.9"/></g>
<polygon points="484.8,332.4 475.4,332.4 475.4,350.5 484.8,350.5" fill="none" stroke="#111" stroke-width="1.4"/>
<polygon points="283.2,391 292.6,391 292.6,409.2 283.2,409.2" fill="#f4e257" stroke="none"/>
<g clip-path="url(#c29)"><path d="M282.20,378.93L293.60,390.33M282.20,384.02L293.60,395.42M282.20,389.11L293.60,400.51M282.20,394.21L293.60,405.61M282.20,399.30L293.60,410.70M282.20,404.39L293.60,415.79M282.20,409.48L293.60,420.88" fill="none" stroke="#121212" stroke-width="0.9"/><path d="M282.20,394.93L293.60,383.53M282.20,400.02L293.60,388.62M282.20,405.11L293.60,393.71M282.20,410.20L293.60,398.80M282.20,415.29L293.60,403.89M282.20,420.38L293.60,408.98" fill="none" stroke="#121212" stroke-width="0.9"/></g>
<polygon points="283.2,391 292.6,391 292.6,409.2 283.2,409.2" fill="none" stroke="#111" stroke-width="1.4"/>
<polygon points="484.8,391 475.4,391 475.4,409.2 484.8,409.2" fill="#f4e257" stroke="none"/>
<g clip-path="url(#c30)"><path d="M474.40,382.76L485.80,394.16M474.40,387.85L485.80,399.25M474.40,392.94L485.80,404.34M474.40,398.03L485.80,409.43M474.40,403.12L485.80,414.52M474.40,408.21L485.80,419.61" fill="none" stroke="#121212" stroke-width="0.9"/><path d="M474.40,391.10L485.80,379.70M474.40,396.19L485.80,384.79M474.40,401.28L485.80,389.88M474.40,406.37L485.80,394.97M474.40,411.46L485.80,400.06M474.40,416.55L485.80,405.15" fill="none" stroke="#121212" stroke-width="0.9"/></g>
<polygon points="484.8,391 475.4,391 475.4,409.2 484.8,409.2" fill="none" stroke="#111" stroke-width="1.4"/>
<circle cx="289.6" cy="347.9" r="3.4" fill="#111" stroke="none" stroke-width="0"/>
<circle cx="478.4" cy="347.9" r="3.4" fill="#111" stroke="none" stroke-width="0"/>
<circle cx="289.6" cy="393.5" r="3.4" fill="#111" stroke="none" stroke-width="0"/>
<circle cx="478.4" cy="393.5" r="3.4" fill="#111" stroke="none" stroke-width="0"/>
<line x1="287.3" y1="350.5" x2="287.3" y2="362" stroke="#111" stroke-width="1.5" />
<line x1="480.7" y1="350.5" x2="480.7" y2="362" stroke="#111" stroke-width="1.5" />
<line x1="287.3" y1="380" x2="287.3" y2="391" stroke="#111" stroke-width="1.5" />
<line x1="480.7" y1="380" x2="480.7" y2="391" stroke="#111" stroke-width="1.5" />
<polygon points="282.6,361 287,361 287,363.6 282.6,363.6" fill="#fff" stroke="#111" stroke-width="0.7" stroke-linejoin="miter" />
<polygon points="485.4,361 481,361 481,363.6 485.4,363.6" fill="#fff" stroke="#111" stroke-width="0.7" stroke-linejoin="miter" />
<polygon points="282.6,378.4 287,378.4 287,381 282.6,381" fill="#fff" stroke="#111" stroke-width="0.7" stroke-linejoin="miter" />
<polygon points="485.4,378.4 481,378.4 481,381 485.4,381" fill="#fff" stroke="#111" stroke-width="0.7" stroke-linejoin="miter" />
<polygon points="287.8,351.6 292,351.6 292,354 287.8,354" fill="#fff" stroke="#111" stroke-width="0.7" stroke-linejoin="miter" />
<polygon points="480.2,351.6 476,351.6 476,354 480.2,354" fill="#fff" stroke="#111" stroke-width="0.7" stroke-linejoin="miter" />
<polygon points="287.8,386.8 292,386.8 292,389.2 287.8,389.2" fill="#fff" stroke="#111" stroke-width="0.7" stroke-linejoin="miter" />
<polygon points="480.2,386.8 476,386.8 476,389.2 480.2,389.2" fill="#fff" stroke="#111" stroke-width="0.7" stroke-linejoin="miter" />
<line x1="283.4" y1="366" x2="292.4" y2="376" stroke="#111" stroke-width="0.9" />
<line x1="484.6" y1="366" x2="475.6" y2="376" stroke="#111" stroke-width="0.9" />
<line x1="280.6" y1="344" x2="282.9" y2="344" stroke="#111" stroke-width="1" />
<line x1="487.4" y1="344" x2="485.1" y2="344" stroke="#111" stroke-width="1" />
<polygon points="280.4,344 283,344 283,399 280.4,399" fill="#222" stroke="#111" stroke-width="0.5" stroke-linejoin="miter" />
<polygon points="487.6,344 485,344 485,399 487.6,399" fill="#222" stroke="#111" stroke-width="0.5" stroke-linejoin="miter" />
<polygon points="274.2,344 280.3,344 280.3,399 274.2,399" fill="#f4e257" stroke="#111" stroke-width="1.5" stroke-linejoin="miter" />
<polygon points="493.8,344 487.7,344 487.7,399 493.8,399" fill="#f4e257" stroke="#111" stroke-width="1.5" stroke-linejoin="miter" />
<line x1="277.3" y1="345" x2="277.3" y2="398" stroke="#333" stroke-width="1" stroke-dasharray="4 1.5"/>
<line x1="490.7" y1="345" x2="490.7" y2="398" stroke="#333" stroke-width="1" stroke-dasharray="4 1.5"/>
<polygon points="275.9,338 282.7,338 282.7,344 275.9,344" fill="#f4e257" stroke="#111" stroke-width="1.4" stroke-linejoin="miter" />
<polygon points="492.1,338 485.3,338 485.3,344 492.1,344" fill="#f4e257" stroke="#111" stroke-width="1.4" stroke-linejoin="miter" />
<polygon points="275.9,399 282.7,399 282.7,404.2 275.9,404.2" fill="#f4e257" stroke="#111" stroke-width="1.4" stroke-linejoin="miter" />
<polygon points="492.1,399 485.3,399 485.3,404.2 492.1,404.2" fill="#f4e257" stroke="#111" stroke-width="1.4" stroke-linejoin="miter" />
<polygon points="271.4,363.5 274.2,363.5 274.2,378 271.4,378" fill="#111" stroke="#111" stroke-width="0.5" stroke-linejoin="miter" />
<polygon points="496.6,363.5 493.8,363.5 493.8,378 496.6,378" fill="#111" stroke="#111" stroke-width="0.5" stroke-linejoin="miter" />
<polygon points="292.8,332.8 301.6,332.8 301.6,339.2 292.8,339.2" fill="#fff" stroke="#111" stroke-width="0.8" stroke-linejoin="miter" />
<polygon points="475.2,332.8 466.4,332.8 466.4,339.2 475.2,339.2" fill="#fff" stroke="#111" stroke-width="0.8" stroke-linejoin="miter" />
<line x1="384" y1="133" x2="384" y2="546" stroke="#111" stroke-width="0.9" stroke-dasharray="27 2 2.5 2" stroke-dashoffset="12.6"/>
<line x1="316" y1="112" x2="316" y2="146" stroke="#111" stroke-width="0.85" />
<line x1="452" y1="112" x2="452" y2="146" stroke="#111" stroke-width="0.85" />
<line x1="316" y1="118.5" x2="452" y2="118.5" stroke="#111" stroke-width="0.85" />
<polygon points="316,118.5 323.5,116.9 323.5,120.1" fill="#111"/>
<polygon points="452,118.5 444.5,116.9 444.5,120.1" fill="#111"/>
<line x1="120.8" y1="145.7" x2="270" y2="145.7" stroke="#111" stroke-width="0.85" />
<line x1="124.4" y1="145.7" x2="124.4" y2="459.4" stroke="#111" stroke-width="0.85" />
<polygon points="124.4,145.7 122.8,153.2 126,153.2" fill="#111"/>
<polygon points="124.4,459.4 122.8,451.9 126,451.9" fill="#111"/>
<line x1="214.6" y1="145.7" x2="214.6" y2="200.3" stroke="#111" stroke-width="0.85" />
<polygon points="214.6,145.7 213,153.2 216.2,153.2" fill="#111"/>
<polygon points="214.6,200.3 213,192.8 216.2,192.8" fill="#111"/>
<line x1="211.5" y1="200.3" x2="227" y2="200.3" stroke="#111" stroke-width="0.85" />
<line x1="227" y1="184.5" x2="227" y2="200.5" stroke="#111" stroke-width="0.85" />
<line x1="198.3" y1="287.7" x2="228" y2="287.7" stroke="#111" stroke-width="0.85" />
<line x1="198.3" y1="325" x2="228" y2="325" stroke="#111" stroke-width="0.85" />
<line x1="218.5" y1="287.7" x2="218.5" y2="325" stroke="#111" stroke-width="0.85" />
<polygon points="218.5,287.7 217.1,293.7 219.9,293.7" fill="#111"/>
<polygon points="218.5,325 217.1,319 219.9,319" fill="#111"/>
<line x1="213" y1="306.3" x2="292" y2="306.3" stroke="#111" stroke-width="0.8" stroke-dasharray="12 2 2 2"/>
<line x1="142" y1="306.3" x2="154" y2="306.3" stroke="#111" stroke-width="0.85" />
<polygon points="153.5,306.3 175.8,298.9 175.8,313.7" fill="#111"/>
<line x1="175.8" y1="306.3" x2="192" y2="306.3" stroke="#111" stroke-width="1.8" />
<line x1="184.8" y1="303.3" x2="192.3" y2="303.3" stroke="#111" stroke-width="2" />
<line x1="184.8" y1="309.3" x2="192.3" y2="309.3" stroke="#111" stroke-width="2" />
<line x1="148" y1="391.7" x2="158" y2="391.7" stroke="#111" stroke-width="0.9" />
<line x1="158" y1="391.7" x2="175" y2="391.7" stroke="#111" stroke-width="1.8" />
<polygon points="197.3,391.7 174.4,384.3 174.4,399.1" fill="#111"/>
<line x1="158.3" y1="388.7" x2="165.8" y2="388.7" stroke="#111" stroke-width="2" />
<line x1="158.3" y1="394.7" x2="165.8" y2="394.7" stroke="#111" stroke-width="2" />
<line x1="197" y1="391.7" x2="270" y2="391.7" stroke="#111" stroke-width="0.8" stroke-dasharray="12 2 2 2"/>
<line x1="200.5" y1="376.8" x2="231" y2="376.8" stroke="#111" stroke-width="0.85" />
<line x1="214.4" y1="373.4" x2="231" y2="373.4" stroke="#111" stroke-width="0.85" />
<line x1="214.4" y1="373.4" x2="214.4" y2="424" stroke="#111" stroke-width="0.85" />
<line x1="218.3" y1="377" x2="218.3" y2="410" stroke="#111" stroke-width="0.85" />
<polygon points="218.3,377 217,382.5 219.6,382.5" fill="#111"/>
<polygon points="218.3,410 217,404.5 219.6,404.5" fill="#111"/>
<line x1="214.4" y1="410.3" x2="231" y2="410.3" stroke="#111" stroke-width="0.85" />
<line x1="205" y1="424.2" x2="205" y2="458.8" stroke="#111" stroke-width="1.5" />
<line x1="224.6" y1="424.2" x2="224.6" y2="458.8" stroke="#111" stroke-width="1.5" />
<line x1="209" y1="424.2" x2="209" y2="458.8" stroke="#222" stroke-width="0.7" />
<line x1="220.6" y1="424.2" x2="220.6" y2="458.8" stroke="#222" stroke-width="0.7" />
<line x1="205" y1="443.8" x2="224.6" y2="443.8" stroke="#111" stroke-width="1.5" />
<line x1="206" y1="446.8" x2="223.6" y2="446.8" stroke="#111" stroke-width="0.8" />
<line x1="541" y1="288" x2="557" y2="288" stroke="#111" stroke-width="0.85" />
<line x1="541" y1="304.8" x2="557" y2="304.8" stroke="#111" stroke-width="0.85" />
<line x1="553.5" y1="276" x2="553.5" y2="317.7" stroke="#111" stroke-width="0.85" />
<polygon points="553.5,288 552.1,282 554.9,282" fill="#111"/>
<polygon points="553.5,304.8 552.1,310.8 554.9,310.8" fill="#111"/>
<line x1="470" y1="296.3" x2="560" y2="296.3" stroke="#111" stroke-width="0.8" stroke-dasharray="12 2 2 2"/>
<line x1="560" y1="296.3" x2="630.4" y2="296.3" stroke="#111" stroke-width="0.9" />
<polygon points="605.6,296.3 583.5,288.9 583.5,303.7" fill="#fff" stroke="#111" stroke-width="1.2"/>
<polygon points="605.6,296.3 583.5,288.9 583.5,296.3" fill="#111"/>
<line x1="567.5" y1="293.3" x2="575" y2="293.3" stroke="#111" stroke-width="2" />
<line x1="567.5" y1="299.3" x2="575" y2="299.3" stroke="#111" stroke-width="2" />
<line x1="504.2" y1="189.6" x2="589.6" y2="189.6" stroke="#111" stroke-width="0.85" />
<line x1="518.75" y1="185.8" x2="518.75" y2="200.4" stroke="#111" stroke-width="0.85" />
<line x1="531.25" y1="185.8" x2="531.25" y2="200.4" stroke="#111" stroke-width="0.85" />
<polygon points="518.75,189.6 512.25,188.2 512.25,191" fill="#111"/>
<polygon points="531.25,189.6 537.75,188.2 537.75,191" fill="#111"/>
<line x1="525" y1="177.5" x2="525" y2="244" stroke="#111" stroke-width="0.8" stroke-dasharray="30 2 2 2"/>
<line x1="243.4" y1="193" x2="243.4" y2="244" stroke="#111" stroke-width="0.8" stroke-dasharray="16 2 2 2"/>
<line x1="563.3" y1="369.2" x2="622.7" y2="369.2" stroke="#111" stroke-width="0.85" />
<polygon points="563.3,369.2 569.8,367.8 569.8,370.6" fill="#111"/>
<line x1="563.3" y1="355" x2="563.3" y2="378" stroke="#111" stroke-width="0.85" />
<line x1="553" y1="373" x2="553" y2="470" stroke="#111" stroke-width="0.85" />
<line x1="563.7" y1="377.5" x2="563.7" y2="424.2" stroke="#111" stroke-width="1.4" />
<polygon points="543.5,459.4 563,459.4 563,480.7 560.5,485.7 553.2,491.3 546.3,485.7 543.5,480.7" fill="#a0a0a0" stroke="#111" stroke-width="1.2" stroke-linejoin="miter" />
<line x1="545.8" y1="459.4" x2="545.8" y2="481" stroke="#111" stroke-width="1.5" />
<line x1="560.2" y1="459.4" x2="560.2" y2="481" stroke="#111" stroke-width="1.5" />
<line x1="543.5" y1="480.7" x2="563" y2="480.7" stroke="#111" stroke-width="1.2" />
<line x1="546.3" y1="485.7" x2="560.5" y2="485.7" stroke="#111" stroke-width="1" />
<line x1="542.5" y1="424.2" x2="542.5" y2="459.4" stroke="#111" stroke-width="1.6" />
<line x1="563.7" y1="424.2" x2="563.7" y2="459.4" stroke="#111" stroke-width="1.6" />
<line x1="566" y1="424.2" x2="566" y2="459.4" stroke="#111" stroke-width="0.7" />
<line x1="575.7" y1="424.2" x2="612" y2="424.2" stroke="#111" stroke-width="0.85" />
<line x1="608.9" y1="424.2" x2="608.9" y2="459.4" stroke="#111" stroke-width="0.85" />
<polygon points="608.9,424.2 607.5,430.7 610.3,430.7" fill="#111"/>
<polygon points="608.9,459.4 607.5,452.9 610.3,452.9" fill="#111"/>
<line x1="96.5" y1="453" x2="96.5" y2="509.5" stroke="#111" stroke-width="0.85" />
<line x1="174" y1="453" x2="174" y2="522.5" stroke="#111" stroke-width="0.85" />
<line x1="671.2" y1="452" x2="671.2" y2="503.4" stroke="#111" stroke-width="0.85" />
<line x1="671.2" y1="506" x2="671.2" y2="524" stroke="#111" stroke-width="0.85" />
<line x1="52" y1="498.4" x2="64" y2="498.4" stroke="#111" stroke-width="0.85" />
<line x1="703" y1="498.4" x2="716" y2="498.4" stroke="#111" stroke-width="0.85" />
<line x1="271" y1="537.6" x2="314" y2="537.6" stroke="#111" stroke-width="0.8" />
<line x1="497" y1="537.6" x2="454" y2="537.6" stroke="#111" stroke-width="0.8" />
<line x1="364.2" y1="409.2" x2="364.2" y2="459.6" stroke="#111" stroke-width="0.85" />
<polygon points="364.2,409.2 362.8,415.7 365.6,415.7" fill="#111"/>
<polygon points="364.2,459.6 362.8,453.1 365.6,453.1" fill="#111"/>
<line x1="295" y1="459.6" x2="367.5" y2="459.6" stroke="#111" stroke-width="0.85" />
<line x1="419.2" y1="409.2" x2="419.2" y2="498.8" stroke="#111" stroke-width="0.85" />
<polygon points="419.2,409.2 417.8,415.7 420.6,415.7" fill="#111"/>
<polygon points="419.2,498.8 417.8,492.3 420.6,492.3" fill="#111"/>
<line x1="300" y1="498.8" x2="425" y2="498.8" stroke="#111" stroke-width="0.85" />
<line x1="300" y1="487" x2="322" y2="487" stroke="#111" stroke-width="0.85" />
<line x1="446" y1="487" x2="468" y2="487" stroke="#111" stroke-width="0.85" />
<line x1="313.8" y1="541" x2="313.8" y2="582.2" stroke="#111" stroke-width="0.85" />
<line x1="453.9" y1="541" x2="453.9" y2="582.2" stroke="#111" stroke-width="0.85" />
<line x1="313.8" y1="577.2" x2="453.9" y2="577.2" stroke="#111" stroke-width="0.85" />
<polygon points="313.8,577.2 321.3,575.6 321.3,578.8" fill="#111"/>
<polygon points="453.9,577.2 446.4,575.6 446.4,578.8" fill="#111"/>
<line x1="273" y1="472" x2="273" y2="614" stroke="#111" stroke-width="0.85" />
<line x1="495" y1="472" x2="495" y2="614" stroke="#111" stroke-width="0.85" />
<line x1="273" y1="609" x2="495" y2="609" stroke="#111" stroke-width="0.85" />
<polygon points="273,609 280.5,607.4 280.5,610.6" fill="#111"/>
<polygon points="495,609 487.5,607.4 487.5,610.6" fill="#111"/>
<line x1="246.4" y1="472" x2="246.4" y2="646.2" stroke="#111" stroke-width="0.85" />
<line x1="521.3" y1="472" x2="521.3" y2="646.2" stroke="#111" stroke-width="0.85" />
<line x1="246.4" y1="641.2" x2="521.3" y2="641.2" stroke="#111" stroke-width="0.85" />
<polygon points="246.4,641.2 253.9,639.6 253.9,642.8" fill="#111"/>
<polygon points="521.3,641.2 513.8,639.6 513.8,642.8" fill="#111"/>
<line x1="190.3" y1="537" x2="190.3" y2="677.8" stroke="#111" stroke-width="0.85" />
<line x1="576.1" y1="537" x2="576.1" y2="677.8" stroke="#111" stroke-width="0.85" />
<line x1="190.3" y1="672.8" x2="576.1" y2="672.8" stroke="#111" stroke-width="0.85" />
<polygon points="190.3,672.8 197.8,671.2 197.8,674.4" fill="#111"/>
<polygon points="576.1,672.8 568.6,671.2 568.6,674.4" fill="#111"/>
<line x1="322" y1="315.5" x2="304" y2="311" stroke="#111" stroke-width="0.8" />
<line x1="325" y1="341" x2="309" y2="345" stroke="#111" stroke-width="0.8" />
<line x1="325" y1="381" x2="310" y2="387" stroke="#111" stroke-width="0.8" />
<line x1="443" y1="286" x2="460" y2="305" stroke="#111" stroke-width="0.8" />
<line x1="442" y1="316" x2="470" y2="337" stroke="#111" stroke-width="0.8" />
<line x1="442" y1="347.7" x2="462" y2="347.7" stroke="#111" stroke-width="0.8" />
<line x1="322.6" y1="479.3" x2="272.5" y2="425.2" stroke="#111" stroke-width="0.8" />
<line x1="442.5" y1="436.7" x2="472" y2="408" stroke="#111" stroke-width="0.8" />
<line x1="443.3" y1="466.3" x2="475" y2="451.5" stroke="#111" stroke-width="0.8" />
<g opacity="0.995">
<text transform="translate(377.5,111.5) scale(0.72,1)" font-size="23" text-anchor="start" word-spacing="2" fill="#1a1a1a" stroke="#1a1a1a" stroke-width="0.25">d<tspan font-size="17" dy="4.6">2</tspan></text>
<text transform="translate(116.8,313.8) rotate(-90) scale(0.77,1)" font-size="23.5" text-anchor="start" word-spacing="2" fill="#1a1a1a" stroke="#1a1a1a" stroke-width="0.25">l<tspan font-size="17" dy="4.6">1</tspan></text>
<text transform="translate(207.7,182) rotate(-90) scale(0.77,1)" font-size="23.5" text-anchor="start" word-spacing="2" fill="#1a1a1a" stroke="#1a1a1a" stroke-width="0.25">l<tspan font-size="17" dy="4.6">2</tspan></text>
<text transform="translate(164,296) scale(0.74,1)" font-size="22" text-anchor="middle" word-spacing="2" fill="#1a1a1a" stroke="#1a1a1a" stroke-width="0.25">B</text>
<text transform="translate(164,381.3) scale(0.74,1)" font-size="22" text-anchor="middle" word-spacing="2" fill="#1a1a1a" stroke="#1a1a1a" stroke-width="0.25">A</text>
<text transform="translate(574.8,285.4) scale(0.74,1)" font-size="22" text-anchor="middle" word-spacing="2" fill="#1a1a1a" stroke="#1a1a1a" stroke-width="0.25">C</text>
<text transform="translate(536,181.7) scale(0.72,1)" font-size="23" text-anchor="start" word-spacing="2" fill="#1a1a1a" stroke="#1a1a1a" stroke-width="0.25">2 x M<tspan font-size="16.5" dy="4.5">1</tspan></text>
<text transform="translate(570,361) scale(0.72,1)" font-size="23" text-anchor="start" word-spacing="2" fill="#1a1a1a" stroke="#1a1a1a" stroke-width="0.25">2 x M<tspan font-size="16.5" dy="4.5">2</tspan></text>
<text transform="translate(600.3,447.3) rotate(-90) scale(0.77,1)" font-size="23.5" text-anchor="start" word-spacing="2" fill="#1a1a1a" stroke="#1a1a1a" stroke-width="0.25">l<tspan font-size="17" dy="4.6">3</tspan></text>
<text transform="translate(356.7,441) rotate(-90) scale(0.77,1)" font-size="23.5" text-anchor="start" word-spacing="2" fill="#1a1a1a" stroke="#1a1a1a" stroke-width="0.25">l<tspan font-size="17" dy="4.6">4</tspan></text>
<text transform="translate(411.7,461) rotate(-90) scale(0.77,1)" font-size="23.5" text-anchor="start" word-spacing="2" fill="#1a1a1a" stroke="#1a1a1a" stroke-width="0.25">l<tspan font-size="17" dy="4.6">5</tspan></text>
<text transform="translate(377.8,570.3) scale(0.72,1)" font-size="23" text-anchor="start" word-spacing="2" fill="#1a1a1a" stroke="#1a1a1a" stroke-width="0.25">d<tspan font-size="17" dy="4.6">1</tspan></text>
<text transform="translate(371.2,602) scale(0.72,1)" font-size="23" text-anchor="start" word-spacing="2" fill="#1a1a1a" stroke="#1a1a1a" stroke-width="0.25">d<tspan font-size="17" dy="4.6">3 f7</tspan></text>
<text transform="translate(380.6,637) scale(0.74,1)" font-size="23" text-anchor="start" word-spacing="2" fill="#1a1a1a" stroke="#1a1a1a" stroke-width="0.25">k</text>
<text transform="translate(377.8,665.5) scale(0.72,1)" font-size="23" text-anchor="start" word-spacing="2" fill="#1a1a1a" stroke="#1a1a1a" stroke-width="0.25">d<tspan font-size="17" dy="4.6">4</tspan></text>
<text transform="translate(327,323.5) scale(0.73,1)" font-size="22.2" text-anchor="start" word-spacing="2" fill="#1a1a1a" stroke="#1a1a1a" stroke-width="0.25">13</text>
<text transform="translate(329,347.6) scale(0.73,1)" font-size="22.2" text-anchor="start" word-spacing="2" fill="#1a1a1a" stroke="#1a1a1a" stroke-width="0.25">6</text>
<text transform="translate(328.5,389) scale(0.73,1)" font-size="22.2" text-anchor="start" word-spacing="2" fill="#1a1a1a" stroke="#1a1a1a" stroke-width="0.25">7</text>
<text transform="translate(422.5,292.5) scale(0.73,1)" font-size="22.2" text-anchor="start" word-spacing="2" fill="#1a1a1a" stroke="#1a1a1a" stroke-width="0.25">12</text>
<text transform="translate(433.5,322.8) scale(0.73,1)" font-size="22.2" text-anchor="start" word-spacing="2" fill="#1a1a1a" stroke="#1a1a1a" stroke-width="0.25">1</text>
<text transform="translate(421,355) scale(0.73,1)" font-size="22.2" text-anchor="start" word-spacing="2" fill="#1a1a1a" stroke="#1a1a1a" stroke-width="0.25">35</text>
<text transform="translate(324.5,486) scale(0.73,1)" font-size="22.2" text-anchor="start" word-spacing="2" fill="#1a1a1a" stroke="#1a1a1a" stroke-width="0.25">15</text>
<text transform="translate(431.5,444) scale(0.73,1)" font-size="22.2" text-anchor="start" word-spacing="2" fill="#1a1a1a" stroke="#1a1a1a" stroke-width="0.25">2</text>
<text transform="translate(425.6,473.2) scale(0.73,1)" font-size="22.2" text-anchor="start" word-spacing="2" fill="#1a1a1a" stroke="#1a1a1a" stroke-width="0.25">11</text>
</g>
</svg>
</body></html>
